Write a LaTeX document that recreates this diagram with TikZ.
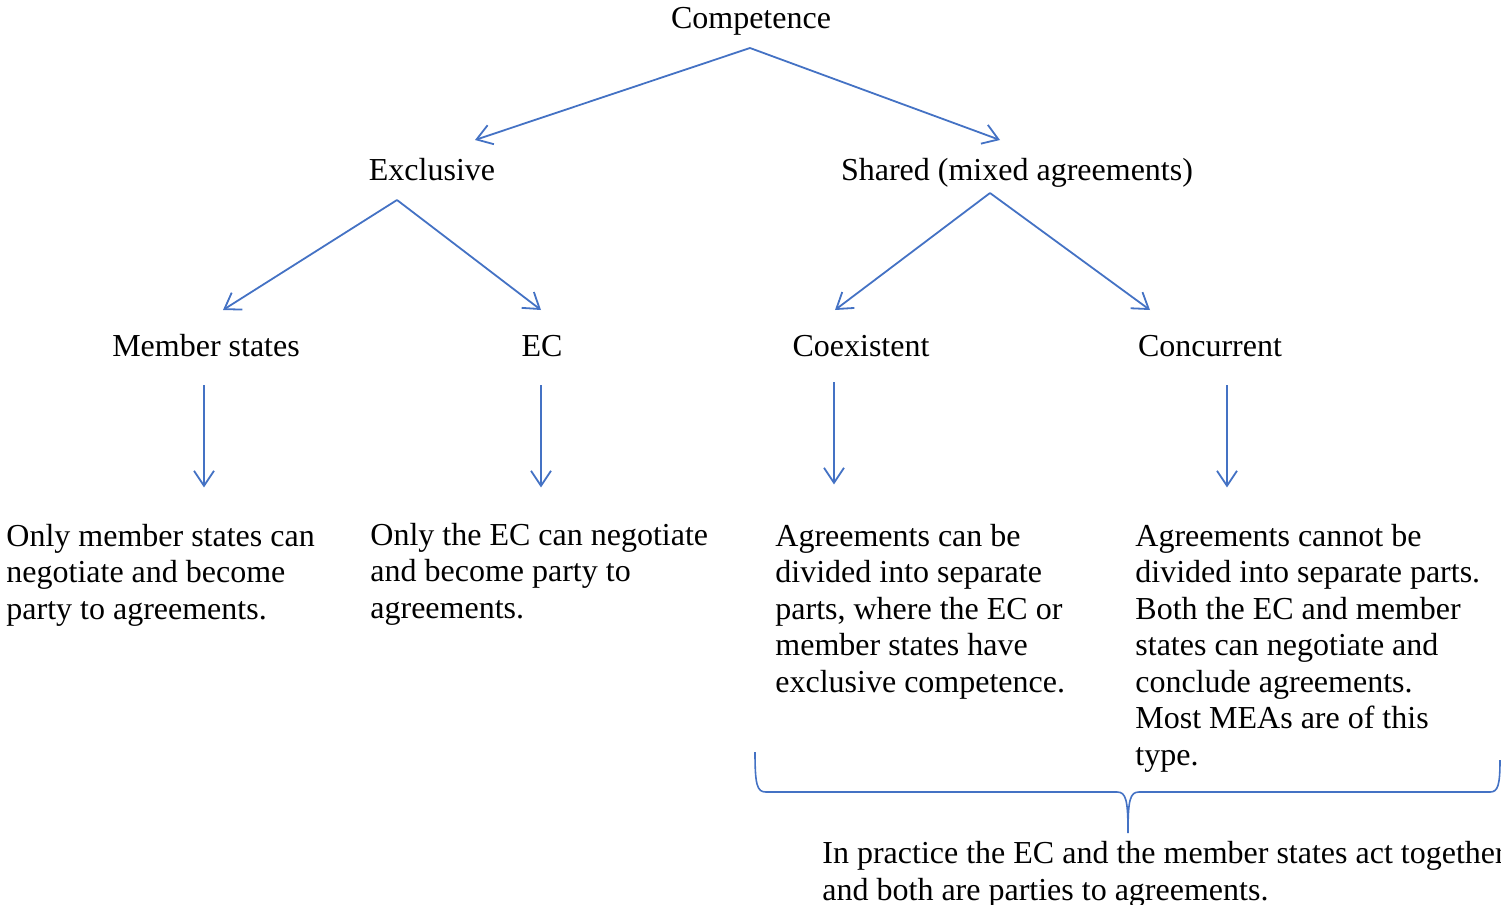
\documentclass[tikz,border=0pt]{standalone}
\usepackage{fontspec}
\setmainfont{Liberation Serif}
\usetikzlibrary{arrows.meta}
\definecolor{linkblue}{RGB}{68,114,196}
\tikzset{
  lbl/.style={inner sep=0pt,anchor=base,font=\fontsize{16pt}{18.25pt}\selectfont},
  txt/.style={inner sep=0pt,anchor=base west,align=left,font=\fontsize{16pt}{18.25pt}\selectfont},
  arr/.style={draw=linkblue,line width=0.9pt,-{Straight Barb[length=7.5pt,width=10pt]}}
}
\begin{document}
\begin{tikzpicture}[x=0.5pt,y=-0.5pt]
\useasboundingbox (0,0) rectangle (1501,905);
% headings
\node[lbl] (comp) at (751,28) {Competence};
\node[lbl] (excl) at (432,180) {Exclusive};
\node[lbl] (shared) at (1017,180) {Shared (mixed agreements)};
\node[lbl] (member) at (206,356) {Member states};
\node[lbl] (ec) at (542,356) {EC};
\node[lbl] (coex) at (861,356) {Coexistent};
\node[lbl] (conc) at (1210,356) {Concurrent};
% descriptions (placed at the baseline of their last line)
\node[txt] (membertxt) at (6,619) {Only member states can\\negotiate and become\\party to agreements.};
\node[txt] (ectxt) at (370,618) {Only the EC can negotiate\\and become party to\\agreements.};
\node[txt] (coextxt) at (775,692) {Agreements can be\\divided into separate\\parts, where the EC or\\member states have\\exclusive competence.};
\node[txt] (conctxt) at (1135,765) {Agreements cannot be\\divided into separate parts.\\Both the EC and member\\states can negotiate and\\conclude agreements.\\Most MEAs are of this\\type.};
\node[txt] (practice) at (822,900) {In practice the EC and the member states act together\\and both are parties to agreements.};
% tree arrows
\draw[arr] ([shift={(-1,20)}]comp.base) -- ([shift={(43,-40)}]excl.base);
\draw[arr] ([shift={(-1,20)}]comp.base) -- ([shift={(-17,-40)}]shared.base);
\draw[arr] ([shift={(-35,20)}]excl.base) -- ([shift={(17,-46)}]member.base);
\draw[arr] ([shift={(-35,20)}]excl.base) -- ([shift={(-1,-46)}]ec.base);
\draw[arr] ([shift={(-27,13)}]shared.base) -- ([shift={(-26,-46)}]coex.base);
\draw[arr] ([shift={(-27,13)}]shared.base) -- ([shift={(-60,-46)}]conc.base);
% down arrows
\draw[arr] ([shift={(-2,29)}]member.base) -- ([shift={(198,-36)}]membertxt.north west);
\draw[arr] ([shift={(-1,29)}]ec.base) -- ([shift={(171,-35)}]ectxt.north west);
\draw[arr] ([shift={(-27,26)}]coex.base) -- ([shift={(59,-39)}]coextxt.north west);
\draw[arr] ([shift={(17,29)}]conc.base) -- ([shift={(92,-36)}]conctxt.north west);
% brace
\draw[linkblue,line width=0.8pt] (755,752) .. controls (755,785) and (757,792) .. (766,792)
  -- (1117,792) .. controls (1126,792) and (1128,800) .. (1128,833)
  .. controls (1128,800) and (1130,792) .. (1139,792)
  -- (1490,792) .. controls (1498,792) and (1500,785) .. (1500,760);
\end{tikzpicture}
\end{document}
